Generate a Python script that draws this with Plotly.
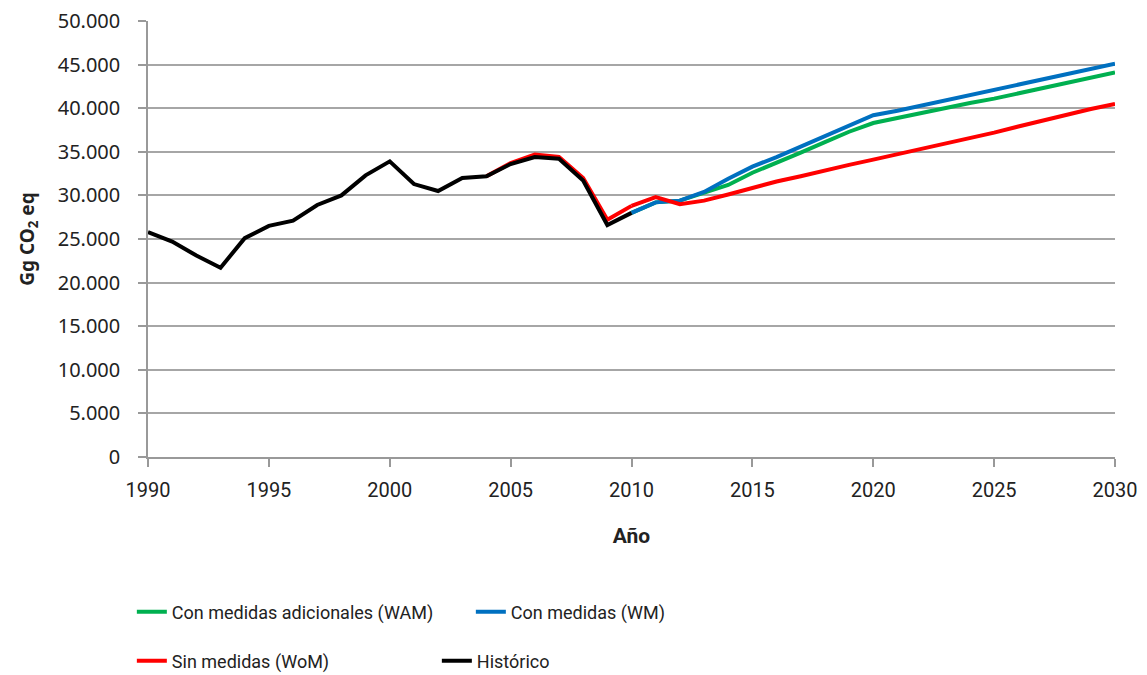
import plotly.graph_objects as go

# Datos (Gg CO2 eq)
hist_years = list(range(1990, 2011))
historico = [25800, 24700, 23100, 21700, 25100, 26500, 27100, 28900, 30000, 32300,
             33900, 31300, 30500, 32000, 32200, 33600, 34400, 34200, 31700, 26600, 28000]

proj_years = list(range(2010, 2031))
wom = [28800, 29800, 29000, 29400, 30100, 30900, 31600, 32200, 32900, 33500,
       34100, 34700, 35300, 36000, 36600, 37200, 37900, 38600, 39300, 39900, 40500]
wm = [28000, 29200, 29400, 30400, 31900, 33300, 34400, 35600, 36700, 37900,
      39200, 39700, 40300, 40800, 41400, 42000, 42600, 43200, 43800, 44400, 45100]
wam = [28000, 29200, 29400, 30300, 31200, 32600, 33700, 34900, 36100, 37300,
       38300, 38900, 39500, 40000, 40600, 41100, 41700, 42300, 42900, 43500, 44100]

# la serie sin medidas coincide con el histórico y se separa un poco en 2005-2009
wom_pre_years = [2004, 2005, 2006, 2007, 2008, 2009, 2010]
wom_pre = [32200, 33700, 34700, 34400, 32000, 27200, 28800]

fig = go.Figure()

fig.add_trace(go.Scatter(x=wom_pre_years, y=wom_pre, mode="lines",
                         line=dict(color="#FF0000", width=4), showlegend=False))
fig.add_trace(go.Scatter(x=proj_years, y=wam, mode="lines", name="Con medidas adicionales (WAM)",
                         line=dict(color="#00B050", width=4), legend="legend"))
fig.add_trace(go.Scatter(x=proj_years, y=wm, mode="lines", name="Con medidas (WM)",
                         line=dict(color="#0070C0", width=4), legend="legend"))
fig.add_trace(go.Scatter(x=proj_years, y=wom, mode="lines", name="Sin medidas (WoM)",
                         line=dict(color="#FF0000", width=4), legend="legend2"))
fig.add_trace(go.Scatter(x=hist_years, y=historico, mode="lines", name="Histórico",
                         line=dict(color="#000000", width=4), legend="legend2"))

legend_font = dict(family="Roboto, sans-serif", size=18, color="#222")

# la página html tiene 8 px de margen en el body, se compensa aquí
fig.update_layout(
    width=1147, height=690,
    margin=dict(l=140, r=40, t=13, b=241),
    paper_bgcolor="white", plot_bgcolor="white",
    separators=",.",
    font=dict(family="Noto Sans, sans-serif", color="#222"),
    legend=dict(orientation="h", x=-0.0167, xanchor="left", y=-0.3555, yanchor="middle",
                font=legend_font, entrywidth=294, entrywidthmode="pixels",
                bgcolor="rgba(0,0,0,0)", itemwidth=30),
    legend2=dict(orientation="h", x=-0.0167, xanchor="left", y=-0.468, yanchor="middle",
                 font=legend_font, entrywidth=260, entrywidthmode="pixels",
                 bgcolor="rgba(0,0,0,0)", itemwidth=30),
)

fig.update_xaxes(
    range=[1990, 2030], tickmode="linear", tick0=1990, dtick=5,
    showline=True, linecolor="#999", linewidth=1.5,
    ticks="outside", ticklen=8, tickcolor="#999", tickwidth=1.5,
    showgrid=False, zeroline=False, automargin=False, ticklabelstandoff=6,
    ticklabeloverflow="allow",
    tickfont=dict(family="Roboto, sans-serif", size=20, color="#222"),
    title=dict(text="<b>Año</b>", font=dict(family="Roboto, sans-serif",
                                              size=21, color="#222"), standoff=28),
)
fig.update_yaxes(
    range=[0, 50000], tickmode="linear", tick0=0, dtick=5000, tickformat=",d",
    showline=True, linecolor="#999", linewidth=1.5,
    ticks="outside", ticklen=8, tickcolor="#999", tickwidth=1.5,
    showgrid=True, gridcolor="#a6a6a6", gridwidth=1.5, zeroline=False,
    automargin=False, ticklabelstandoff=14, ticklabeloverflow="allow",
    tickfont=dict(family="Noto Sans, sans-serif", size=20, color="#222"),
    title=dict(text="<b>Gg CO<sub>2</sub> eq</b>",
               font=dict(family="Noto Sans, sans-serif", size=19, color="#222"), standoff=18),
)

fig.write_html("out.html")
